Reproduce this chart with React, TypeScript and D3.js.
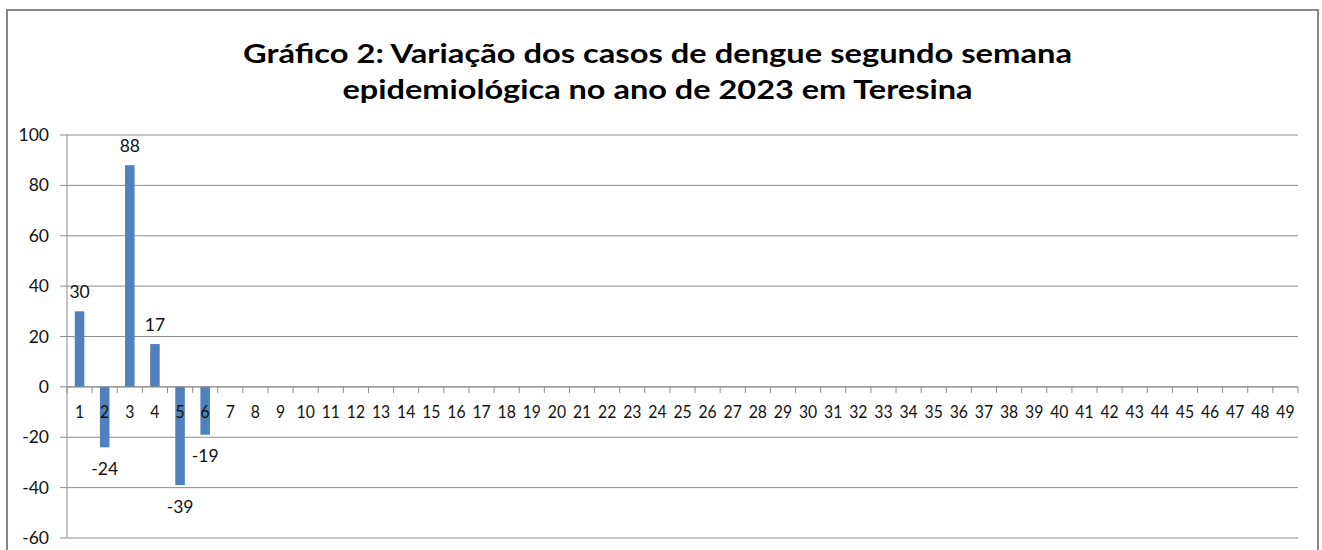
import * as d3 from 'd3';

const weeks = [
  '1', '2', '3', '4', '5', '6', '7', '8', '9', '10', '11', '12', '13', '14', '15', '16', '17',
  '18', '19', '20', '21', '22', '23', '24', '25', '26', '27', '28', '29', '30', '31', '32', '33',
  '34', '35', '36', '37', '38', '39', '40', '41', '42', '43', '44', '45', '46', '47', '48', '49',
];
// variação de casos (só as primeiras semanas têm dado)
const variacao = [30, -24, 88, 17, -39, -19];
const yTicks = [-60, -40, -20, 0, 20, 40, 60, 80, 100];
const titleLines = [
  'Gráfico 2: Variação dos casos de dengue segundo semana',
  'epidemiológica no ano de 2023 em Teresina',
];

const W = 1322;
const H = 550;
const FONT = 'Lato, "Open Sans", sans-serif';

export default function App() {
  const x = d3.scaleBand().domain(weeks).range([67, 1298]).paddingInner(0.62).paddingOuter(0.31);
  const y = d3.scaleLinear().domain([-60, 100]).range([538, 135]);
  const step = x.step();
  const y0 = y(0);
  const bounds = weeks.map((w) => x(w)! + x.bandwidth() / 2 - step / 2).concat([x.range()[1]]);

  const bars = variacao.map((v, i) => ({ week: weeks[i], v }));

  return (
    <svg width={W} height={H} style={{ position: 'absolute', left: 0, top: 0, background: '#fff' }}>
      <rect x={0} y={0} width={W} height={H} fill="#fff" />
      {/* moldura */}
      <rect x={7} y={10} width={1311} height={560} fill="none" stroke="#868686" strokeWidth={2} />

      {/* titulo */}
      {titleLines.map((t, i) => (
        <text
          key={t}
          x={657.5}
          y={i === 0 ? 63 : 99}
          textAnchor="middle"
          fontFamily={FONT}
          fontWeight="bold"
          fontSize={26.5}
          fill="#000"
          textLength={i === 0 ? 829 : 630}
          lengthAdjust="spacingAndGlyphs"
        >
          {t}
        </text>
      ))}

      {/* grade + eixo y */}
      {yTicks.map((t) => (
        <g key={t}>
          <line x1={60} x2={1298} y1={y(t)} y2={y(t)} stroke="#8c8c8c" strokeWidth={1} />
          <text x={49} y={y(t) + 6} textAnchor="end" fontFamily={FONT} fontSize={17.5} fill="#111">
            {t}
          </text>
        </g>
      ))}
      <line x1={67} x2={67} y1={y(100)} y2={y(-60)} stroke="#8c8c8c" strokeWidth={1} />

      {/* barras */}
      {bars.map((d) => (
        <rect
          key={d.week}
          x={x(d.week)!}
          y={d.v >= 0 ? y(d.v) : y0}
          width={x.bandwidth()}
          height={Math.abs(y(d.v) - y0)}
          fill="#4f81bd"
        />
      ))}

      {/* eixo x */}
      <line x1={67} x2={1298} y1={y0} y2={y0} stroke="#8c8c8c" strokeWidth={1} />
      {bounds.map((b, i) => (
        <line key={i} x1={b} x2={b} y1={y0} y2={y0 + 6} stroke="#8c8c8c" strokeWidth={1} />
      ))}
      {weeks.map((w) => (
        <text
          key={w}
          transform={`translate(${x(w)! + x.bandwidth() / 2},${y0 + 31}) scale(0.9,1)`}
          textAnchor="middle"
          fontFamily={FONT}
          fontSize={17.5}
          fill="#111"
        >
          {w}
        </text>
      ))}

      {/* rótulos de dados */}
      {bars.map((d) => (
        <text
          key={'l' + d.week}
          x={x(d.week)! + x.bandwidth() / 2}
          y={d.v >= 0 ? y(d.v) - 13 : y(d.v) + 27.5}
          textAnchor="middle"
          fontFamily={FONT}
          fontSize={17.5}
          fill="#111"
        >
          {d.v}
        </text>
      ))}
    </svg>
  );
}
